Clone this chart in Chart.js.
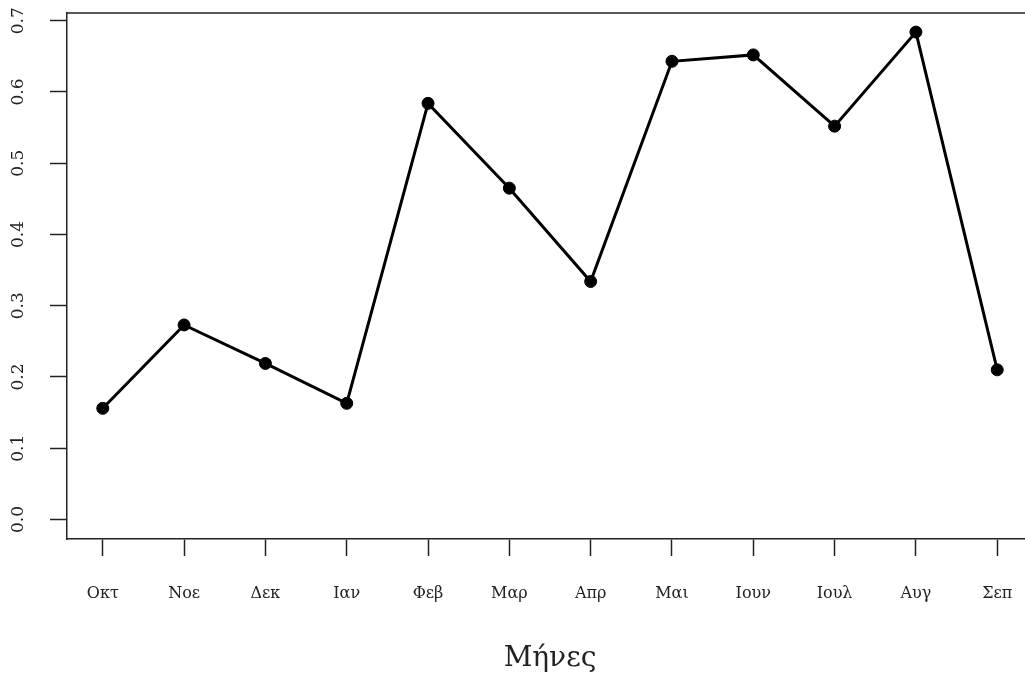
<!DOCTYPE html>
<html>
<head>
<meta charset="utf-8">
<script src="https://cdn.jsdelivr.net/npm/chart.js@4.4.0/dist/chart.umd.min.js"></script>
<style>
  html, body { margin: 0; padding: 0; background: #ffffff; overflow: hidden; }
  #wrap { width: 1045px; height: 679px; position: relative; }
</style>
</head>
<body>
<div id="wrap"><canvas id="c"></canvas></div>
<script>
const months = ["Οκτ", "Νοε", "Δεκ", "Ιαν", "Φεβ", "Μαρ", "Απρ", "Μαι", "Ιουν", "Ιουλ", "Αυγ", "Σεπ"];
const values = [0.156, 0.273, 0.219, 0.163, 0.584, 0.465, 0.334, 0.643, 0.652, 0.552, 0.684, 0.210];
const yTicks = [0.0, 0.1, 0.2, 0.3, 0.4, 0.5, 0.6, 0.7];
const yTickLabels = ["0.0", "0.1", "0.2", "0.3", "0.4", "0.5", "0.6", "0.7"];
const xTitle = "Μήνες";

const points = months.map((m, i) => ({ x: i + 1, y: values[i] }));

const frameAndYLabels = {
  id: 'frameAndYLabels',
  afterDraw(chart) {
    const { ctx, chartArea, scales } = chart;
    ctx.save();
    ctx.strokeStyle = '#222';
    ctx.lineWidth = 1.5;
    ctx.beginPath();
    ctx.moveTo(chartArea.left, chartArea.top);
    ctx.lineTo(chartArea.right + 5, chartArea.top);
    ctx.stroke();
    ctx.fillStyle = '#222';
    ctx.font = '17px "DejaVu Serif"';
    ctx.textAlign = 'center';
    ctx.textBaseline = 'middle';
    yTicks.forEach((v, i) => {
      const y = scales.y.getPixelForValue(v);
      ctx.save();
      ctx.translate(19, y);
      ctx.rotate(-Math.PI / 2);
      ctx.fillText(yTickLabels[i], 0, 0);
      ctx.restore();
    });
    ctx.restore();
  }
};

new Chart(document.getElementById('c'), {
  type: 'line',
  data: {
    datasets: [{
      data: points,
      borderColor: '#000',
      backgroundColor: '#000',
      borderWidth: 3,
      pointRadius: 6,
      pointBorderWidth: 1,
      pointBackgroundColor: '#000',
      pointBorderColor: '#000',
      tension: 0,
      clip: false
    }]
  },
  options: {
    responsive: true,
    maintainAspectRatio: false,
    animation: false,
    devicePixelRatio: 1,
    layout: { padding: { top: 13, right: 12, left: 0, bottom: 0 } },
    plugins: { legend: { display: false }, tooltip: { enabled: false } },
    scales: {
      x: {
        type: 'linear',
        min: 0.56,
        max: 12.44,
        afterBuildTicks: (s) => { s.ticks = months.map((m, i) => ({ value: i + 1 })); },
        afterFit: (s) => { s.height = 140; },
        grid: { display: true, drawOnChartArea: false, drawTicks: true, tickLength: 17, tickColor: '#222', tickWidth: 1.5 },
        border: { display: true, color: '#222', width: 1.5 },
        ticks: {
          autoSkip: false, maxRotation: 0, minRotation: 0, padding: 28,
          color: '#222', font: { family: '"DejaVu Serif"', size: 16 },
          callback: (v) => months[Math.round(v) - 1]
        },
        title: { display: true, text: xTitle, color: '#222', font: { family: '"DejaVu Serif"', size: 28 }, padding: { top: 0, bottom: 3 } }
      },
      y: {
        type: 'linear',
        min: -0.0274,
        max: 0.7108,
        afterBuildTicks: (s) => { s.ticks = yTicks.map(v => ({ value: v })); },
        afterFit: (s) => { s.width = 67; },
        grid: { display: true, drawOnChartArea: false, drawTicks: true, tickLength: 17, tickColor: '#222', tickWidth: 1.5 },
        border: { display: true, color: '#222', width: 1.5 },
        ticks: { display: false }
      }
    }
  },
  plugins: [frameAndYLabels]
});
</script>
</body>
</html>
